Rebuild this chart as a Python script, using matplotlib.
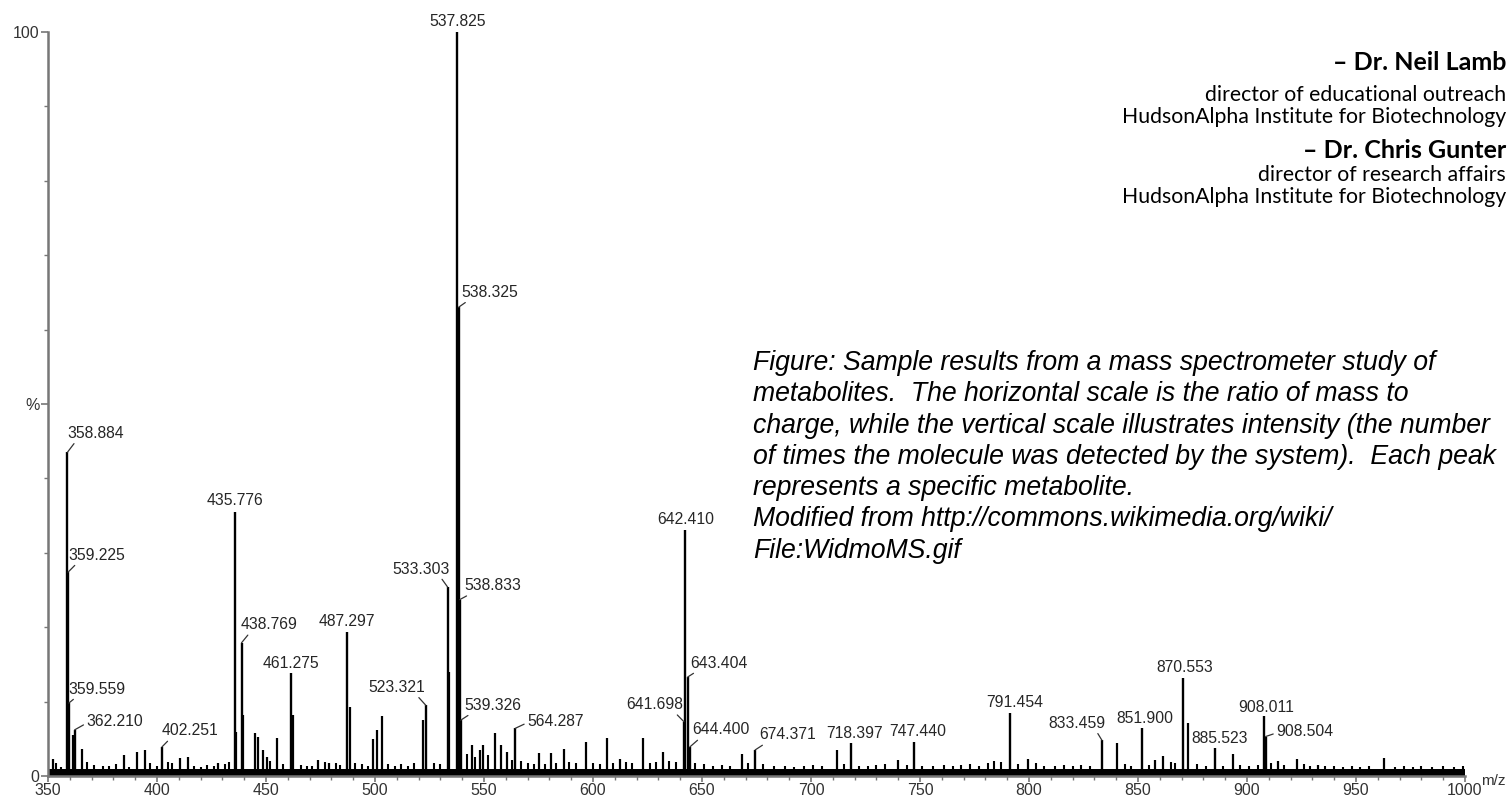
import matplotlib.pyplot as plt

# Espectro de masas (m/z vs intensidad relativa %)
W, H = 1509, 798
plt.rcParams.update({
    'font.family': ['Liberation Sans', 'DejaVu Sans'],
    'figure.dpi': 100,
})

# picos etiquetados
peak_mz = [537.825, 538.325, 538.833, 539.326, 358.884, 359.225, 359.559,
           362.210, 402.251, 435.776, 438.769, 461.275, 487.297, 523.321,
           533.303, 564.287, 642.410, 643.404, 641.698, 644.400, 674.371,
           718.397, 747.440, 791.454, 833.459, 851.900, 870.553, 885.523,
           908.011, 908.504]
peak_int = [100.0, 63.0, 23.7, 7.5, 43.5, 27.4, 9.8,
            6.2, 3.9, 35.5, 17.9, 13.8, 19.4, 9.5,
            25.4, 6.4, 33.1, 13.3, 7.3, 3.9, 3.5,
            4.4, 4.6, 8.5, 4.8, 6.4, 13.2, 3.8,
            8.0, 5.3]

# picos menores sin etiqueta
minor_mz = [352.4, 361.3, 365.6, 384.9, 390.8, 394.5, 410.5, 414.0, 428.0,
            436.3, 439.3, 445.0, 446.5, 448.8, 450.4, 455.0, 462.4, 474.0,
            479.0, 488.5, 499.0, 501.0, 503.2, 522.0, 533.8, 544.5, 548.0,
            549.5, 555.0, 557.8, 560.5, 575.0, 580.7, 586.7, 596.8, 606.4,
            612.4, 623.0, 632.0, 668.3, 712.0, 740.0, 799.5, 840.4, 857.8,
            861.5, 873.0, 893.6, 914.0, 923.0, 932.6, 963.0]
minor_int = [2.3, 5.5, 3.6, 2.8, 3.2, 3.5, 2.4, 2.6, 1.7,
             5.9, 8.2, 5.8, 5.2, 3.5, 2.5, 5.1, 8.2, 2.2,
             1.8, 9.3, 5.0, 6.2, 8.0, 7.5, 14.0, 4.1, 3.5,
             4.2, 5.8, 4.2, 3.2, 3.1, 3.1, 3.6, 4.6, 5.1,
             2.3, 5.1, 3.2, 2.9, 3.5, 2.2, 2.3, 4.4, 2.2,
             2.7, 7.1, 2.9, 2.0, 2.3, 1.5, 2.4]

# ruido de fondo
noise_mz = [353.5, 356, 368, 371, 375, 378, 381, 387, 397, 400, 405, 407,
            417, 420, 423, 426, 431, 433, 452, 458, 466, 469, 471, 477, 482,
            484, 491, 494, 497, 506, 509, 512, 515, 518, 527, 530, 542, 546,
            552, 563, 567, 570, 573, 578, 583, 589, 592, 600, 603, 609, 615,
            618, 626, 629, 635, 638, 647, 651, 655, 659, 663, 671, 678, 683,
            688, 692, 697, 701, 705, 715, 722, 726, 730, 734, 744, 751, 756,
            761, 765, 769, 773, 777, 781, 784, 787, 795, 803, 807, 812, 816,
            820, 824, 828, 844, 847, 855, 865, 867, 877, 881, 889, 897, 901,
            905, 911, 917, 926, 929, 936, 940, 944, 948, 952, 956, 968, 972,
            976, 980, 985, 990, 995, 999]
noise_int = [1.8, 1.2, 1.9, 1.5, 1.4, 1.3, 1.6, 1.2, 1.7, 1.3, 1.9, 1.8,
             1.4, 1.2, 1.5, 1.3, 1.6, 1.9, 2.0, 1.6, 1.5, 1.4, 1.3, 1.9, 1.7,
             1.5, 1.8, 1.6, 1.4, 1.6, 1.4, 1.6, 1.3, 1.7, 1.8, 1.6, 3.0, 2.5,
             2.8, 2.2, 2.0, 1.8, 1.6, 1.6, 1.7, 1.9, 1.7, 1.8, 1.6, 1.8, 1.9,
             1.7, 1.8, 1.9, 2.0, 1.9, 1.8, 1.6, 1.4, 1.5, 1.3, 1.7, 1.6, 1.3,
             1.4, 1.2, 1.3, 1.5, 1.4, 1.6, 1.4, 1.3, 1.5, 1.6, 1.5, 1.4, 1.3,
             1.5, 1.4, 1.5, 1.6, 1.4, 1.8, 2.0, 1.9, 1.6, 1.7, 1.4, 1.3, 1.5,
             1.4, 1.5, 1.4, 1.6, 1.4, 1.5, 1.9, 1.8, 1.6, 1.4, 1.4, 1.5, 1.3,
             1.5, 1.7, 1.5, 1.6, 1.4, 1.4, 1.3, 1.2, 1.3, 1.2, 1.3, 1.2, 1.3,
             1.2, 1.3, 1.2, 1.3, 1.2, 1.4]
noise_floor = 1.0

# posicion de cada etiqueta respecto a la punta del pico (pixeles) y tipo de guia
# guia: None = sin guia, 'r' = etiqueta a la derecha, 'l' = a la izquierda, 'h' = casi horizontal
label_pos = {
    537.825: (0, 11, None), 538.325: (31, 15, 'r'), 538.833: (33, 14, 'r'),
    539.326: (32, 15, 'r'), 358.884: (28, 19, 'r'), 359.225: (29, 17, 'r'),
    359.559: (28, 14, 'r'), 362.210: (40, 8, 'h'), 402.251: (28, 16, 'r'),
    435.776: (0, 11, None), 438.769: (28, 18, 'r'), 461.275: (0, 10, None),
    487.297: (0, 10, None), 523.321: (-29, 18, 'l'), 533.303: (-27, 18, 'l'),
    564.287: (40, 7, 'h'), 642.410: (0, 10, None), 643.404: (31, 14, 'r'),
    641.698: (-29, 17, 'l'), 644.400: (31, 17, 'r'), 674.371: (32, 15, 'r'),
    718.397: (3, 10, None), 747.440: (3, 10, None), 791.454: (4, 10, None),
    833.459: (-25, 17, 'l'), 851.900: (3, 10, None), 870.553: (2, 10, None),
    885.523: (4, 9, None), 908.011: (2, 9, None), 908.504: (39, 5, 'h'),
}
relpos_by_kind = {'r': (0.18, 0.1), 'l': (0.82, 0.1), 'h': (0.0, 0.4)}

fig = plt.figure(figsize=(W / 100, H / 100), dpi=100)
ax = fig.add_axes([48 / W, (H - 776) / H, (1465 - 48) / W, (776 - 32) / H])

ax.fill_between([350, 1000], 0, noise_floor, color='black', lw=0)
ax.vlines(noise_mz, 0, noise_int, color='black', lw=1.5)
ax.vlines(minor_mz, 0, minor_int, color='black', lw=1.6)
ax.vlines(peak_mz, 0, peak_int, color='black', lw=1.7)

for mz, it in zip(peak_mz, peak_int):
    dx, dy, kind = label_pos[mz]
    arrow = None
    if kind:
        arrow = dict(arrowstyle='-', color='#333333', lw=0.9,
                     shrinkA=0, shrinkB=0, relpos=relpos_by_kind[kind])
    ax.annotate(f"{mz:.3f}", xy=(mz, it), xytext=(dx, dy),
                textcoords='offset pixels', ha='center', va='center',
                fontsize=11.3, color='#262626', arrowprops=arrow,
                annotation_clip=False)

ax.set_xlim(350, 1000)
ax.set_ylim(0, 100)
for s in ['top', 'right']:
    ax.spines[s].set_visible(False)
for s in ['left', 'bottom']:
    ax.spines[s].set_color('#777777')
    ax.spines[s].set_linewidth(1.8)

ax.set_xticks(range(350, 1001, 50))
ax.set_xticks(range(350, 1001, 10), minor=True)
ax.set_yticks([0, 50, 100])
ax.set_yticklabels(['0', '%', '100'])
ax.set_yticks(range(0, 101, 10), minor=True)
ax.tick_params(axis='y', which='major', colors='#777777', labelcolor='#333333',
               labelsize=11.5, length=5, width=1.2, pad=1)
ax.tick_params(axis='x', which='major', colors='#777777', labelcolor='#333333',
               labelsize=11.5, length=4, width=1.2, pad=1)
ax.tick_params(axis='both', which='minor', colors='#777777', length=3, width=1)
ax.annotate('m/z', xy=(1000, 0), xytext=(16, -5), textcoords='offset pixels',
            fontsize=11, color='#333333', va='center', ha='left',
            annotation_clip=False)

# texto a la derecha
credits = [
    ("– Dr. Neil Lamb", 'bold', 62, 18),
    ("director of educational outreach", 'normal', 95, 15.3),
    ("HudsonAlpha Institute for Biotechnology", 'normal', 117, 15.3),
    ("– Dr. Chris Gunter", 'bold', 150, 18),
    ("director of research affairs", 'normal', 175, 15.3),
    ("HudsonAlpha Institute for Biotechnology", 'normal', 197, 15.3),
]
for txt, w, y, fs in credits:
    fig.text(1506 / W, 1 - y / H, txt, ha='right', va='center', fontsize=fs,
             fontweight=w, family=['Lato', 'DejaVu Sans'], color='black')

caption = [
    "Figure: Sample results from a mass spectrometer study of",
    "metabolites.  The horizontal scale is the ratio of mass to",
    "charge, while the vertical scale illustrates intensity (the number",
    "of times the molecule was detected by the system).  Each peak",
    "represents a specific metabolite.",
    "Modified from http://commons.wikimedia.org/wiki/",
    "File:WidmoMS.gif",
]
for i, line in enumerate(caption):
    fig.text(753 / W, 1 - (363 + 31.3 * i) / H, line, ha='left', va='center',
             fontsize=19.2, style='italic', color='black',
             family=['Liberation Sans', 'DejaVu Sans'])

fig.savefig('out.png', dpi=100, facecolor='white')
